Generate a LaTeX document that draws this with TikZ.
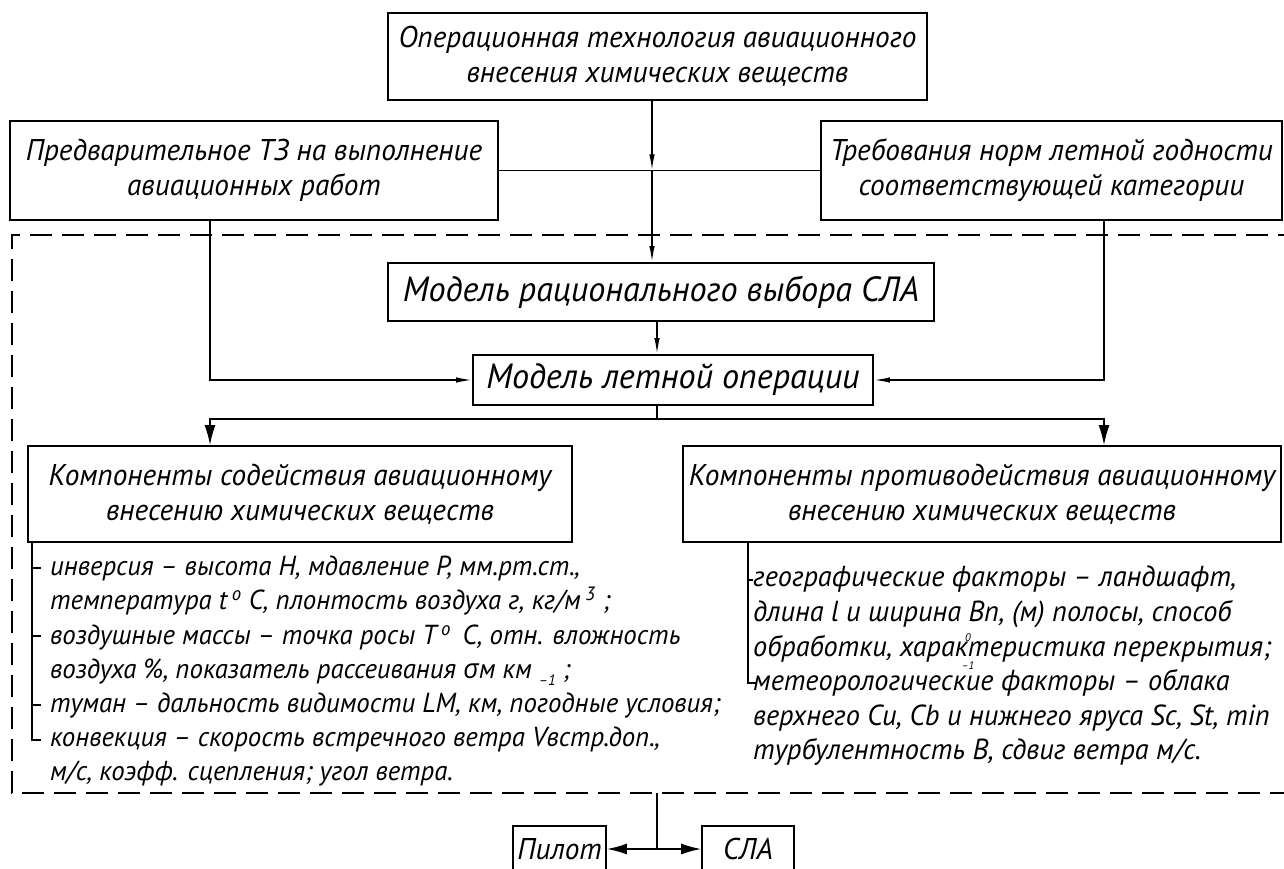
\documentclass[tikz,border=0pt]{standalone}
\usepackage{fontspec}
\setmainfont{PT Sans}
\newfontfamily\gost{PT Sans}[FakeStretch=0.975]
\newfontfamily\grk{Open Sans}[FakeStretch=0.975]
\usetikzlibrary{arrows.meta}

% small stacked index used inside one word of the list
\newcommand\stackidx{\makebox[0pt]{\raisebox{1.0ex}{\fontsize{11}{11}\selectfont 0}}\makebox[0pt]{\raisebox{-0.9ex}{\fontsize{11}{11}\selectfont –1}}}

\tikzset{
  box/.style={draw, line width=1.8pt, inner sep=0pt, align=center,
    font=\gost\itshape\fontsize{30}{35}\selectfont},
  bigbox/.style={box, font=\gost\itshape\fontsize{35}{35}\selectfont},
  smallbox/.style={box, font=\gost\itshape\fontsize{30}{35}\selectfont},
  listtext/.style={inner sep=0pt, align=left, anchor=north west},
  conn/.style={line width=1.6pt},
  thinarr/.style={conn, -{Latex[length=16pt,width=5.5pt]}},
  bigarr/.style={conn, -{Latex[length=20pt,width=11pt]}},
  frame/.style={line width=1.8pt, dash pattern=on 22pt off 10pt},
}

\begin{document}
\begin{tikzpicture}[x=1pt,y=-1pt]
\useasboundingbox (0,0) rectangle (1284,869);

% blocks
\node[box, minimum width=539, minimum height=87] (top) at (657.5,56.5)
  {Операционная технология авиационного\\внесения химических веществ};
\node[box, minimum width=488, minimum height=99] (pre) at (254,170.5)
  {Предварительное ТЗ на выполнение\\авиационных работ};
\node[box, minimum width=461, minimum height=99] (req) at (1051.5,170.5)
  {Требования норм летной годности\\соответствующей категории};
\node[bigbox, minimum width=546, minimum height=58] (rat) at (661,292)
  {Модель рационального выбора СЛА};
\node[bigbox, minimum width=400, minimum height=50] (flight) at (673,380)
  {Модель летной операции};
\node[box, minimum width=544, minimum height=96] (compL) at (300,494)
  {Компоненты содействия авиационному\\внесению химических веществ};
\node[box, minimum width=598, minimum height=96] (compR) at (982,494)
  {Компоненты противодействия авиационному\\внесению химических веществ};
\node[smallbox, minimum width=93, minimum height=46] (pilot) at (559.5,849) {Пилот};
\node[smallbox, minimum width=92, minimum height=46] (sla) at (748,849) {СЛА};

% dashed boundary of the model
\draw[frame] (1300,235) -- (12,235) -- (12,793) -- (1300,793);

% connectors
\coordinate (j1) at (652,0 |- pre.east);
\draw[conn] (pre.east) -- (req.west);
\draw[thinarr] (652,0 |- top.south) -- (j1);
\draw[thinarr] (j1) -- (652,0 |- rat.north);
\draw[thinarr] (657,0 |- rat.south) -- (657,0 |- flight.north);
\draw[thinarr] (210,0 |- pre.south) -- (210,0 |- flight.west) -- (flight.west);
\draw[thinarr] (1104,0 |- req.south) -- (1104,0 |- flight.east) -- (flight.east);

\coordinate (j2) at (657,419);
\draw[conn] (657,0 |- flight.south) -- (j2);
\draw[bigarr] (j2) -- (210,419) -- (210,0 |- compL.north);
\draw[bigarr] (j2) -- (1104,419) -- (1104,0 |- compR.north);

\coordinate (j3) at (657,849);
\draw[conn] (657,793) -- (j3);
\draw[bigarr] (j3) -- (pilot.east);
\draw[bigarr] (j3) -- (sla.west);

% list of assisting factors
\node[listtext, font=\gost\itshape\fontsize{27.5}{34.2}\selectfont] (listL) at (50,556) {%
инверсия – высота Н, мдавление Р, мм.рт.ст.,\\
температура t\,\textsuperscript{o} С, плонтость воздуха г, кг/м\,\textsuperscript{3} ;\\
воздушные массы – точка росы T\,\textsuperscript{o}\, С, отн. вложность\\
воздуха \%, показатель рассеивания {\grk σ}м км \raisebox{-0.5ex}{\fontsize{15}{15}\selectfont –1} ;\\
туман – дальность видимости LM, км, погодные условия;\\
конвекция – скорость встречного ветра Vвстр.доп.,\\
м/с, коэфф. сцепления; угол ветра.};
\draw[conn] (32,0 |- compL.south) -- (32,740) -- (41,740);
\foreach \yy in {568,636,705} \draw[conn] (32,\yy) -- (41,\yy);

% list of counteracting factors
\node[listtext, font=\gost\itshape\fontsize{29}{34.6}\selectfont] (listR) at (753,566) {%
географические факторы – ландшафт,\\
длина l и ширина Вп, (м) полосы, способ\\
обработки, харак\stackidx теристика перекрытия;\\
метеорологические факторы – облака\\
верхнего Cu, Cb и нижнего яруса Sc, St, min\\
турбулентность В, сдвиг ветра м/с.};
\draw[conn] (748,0 |- compR.south) -- (748,683) -- (756,683);
\draw[conn] (748,580) -- (753,580);
\end{tikzpicture}
\end{document}
